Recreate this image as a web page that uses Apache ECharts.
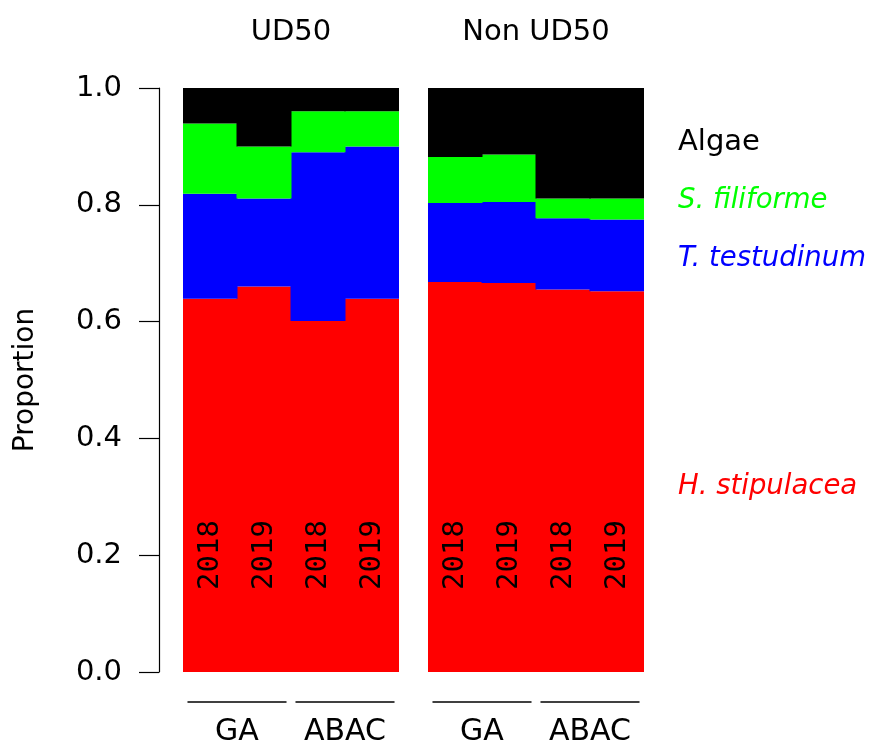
<!DOCTYPE html>
<html>
<head>
<meta charset="utf-8">
<script src="https://cdn.jsdelivr.net/npm/echarts@6/dist/echarts.min.js"></script>
<style>
  html, body { margin: 0; padding: 0; background: #ffffff; }
  #chart { width: 872px; height: 747px; }
</style>
</head>
<body>
<div id="chart"></div>
<script>
// Categories
const years = ['2018', '2019', '2018', '2019'];
const sites = ['GA', 'ABAC'];
const panels = ['UD50', 'Non UD50'];
const species = ['H. stipulacea', 'T. testudinum', 'S. filiforme', 'Algae'];
const speciesItalic = [true, true, true, false];

// Cover proportions, columns: GA 2018, GA 2019, ABAC 2018, ABAC 2019
const ud50HStipulacea = [0.639, 0.660, 0.601, 0.639];
const ud50TTestudinum = [0.180, 0.151, 0.289, 0.261];
const ud50SFiliforme  = [0.120, 0.089, 0.070, 0.060];
const ud50Algae       = [0.061, 0.100, 0.040, 0.040];

const nonHStipulacea  = [0.668, 0.666, 0.655, 0.652];
const nonTTestudinum  = [0.135, 0.139, 0.122, 0.123];
const nonSFiliforme   = [0.079, 0.081, 0.034, 0.036];
const nonAlgae        = [0.118, 0.114, 0.189, 0.189];

// y-axis ticks
const yMin = 0, yMax = 1, yStep = 0.2;

// where the species names sit along the y scale
const speciesLabelY = [0.315, 0.705, 0.805, 0.905];

const palette = ['#ff0000', '#0000ff', '#00ff00', '#000000'];
const FONT = 'DejaVu Sans, Liberation Sans, sans-serif';
const MONO = 'DejaVu Sans Mono, Liberation Mono, monospace';

const panelData = [
  [ud50HStipulacea, ud50TTestudinum, ud50SFiliforme, ud50Algae],
  [nonHStipulacea, nonTTestudinum, nonSFiliforme, nonAlgae]
];

const chart = echarts.init(document.getElementById('chart'), null, { renderer: 'canvas' });

const grids = [
  { left: 183, top: 88, width: 216, height: 585.5 },
  { left: 428, top: 88, width: 216, height: 585.5 }
];

const xAxes = [];
const yAxes = [];
const series = [];

panels.forEach((p, gi) => {
  // year labels written vertically inside the bars
  xAxes.push({
    type: 'category', gridIndex: gi, data: years, position: 'bottom', z: 10,
    axisLine: { show: false }, axisTick: { show: false }, splitLine: { show: false },
    axisLabel: {
      inside: true, rotate: 90, margin: 82, interval: 0,
      fontFamily: MONO, fontSize: 29, color: '#000000'
    }
  });
  yAxes.push({
    type: 'value', gridIndex: gi, min: yMin, max: yMax, interval: yStep,
    show: gi === 0, offset: 24,
    name: gi === 0 ? 'Proportion' : '', nameLocation: 'middle', nameGap: 119,
    nameTextStyle: { fontFamily: FONT, fontSize: 28, color: '#000000' },
    axisLine: { show: true, lineStyle: { color: '#000000', width: 1.2 } },
    axisTick: { show: true, length: 20, lineStyle: { color: '#000000', width: 1.2 } },
    splitLine: { show: false },
    axisLabel: {
      margin: 37, fontFamily: FONT, fontSize: 29, color: '#000000',
      formatter: v => v.toFixed(1)
    }
  });
  panelData[gi].forEach((vals, si) => {
    series.push({
      type: 'bar', name: species[si], xAxisIndex: gi, yAxisIndex: gi,
      stack: 'panel' + gi, data: vals, barWidth: 55, barGap: '0%',
      itemStyle: { color: palette[si], borderWidth: 0 },
      emphasis: { disabled: true },
      animation: false
    });
  });
});

// site group labels under each pair of years
panels.forEach((p, gi) => {
  xAxes.push({
    type: 'category', gridIndex: gi, data: sites, position: 'bottom',
    axisLine: { show: false }, axisTick: { show: false }, splitLine: { show: false },
    axisLabel: { margin: 45, interval: 0, fontFamily: FONT, fontSize: 30, color: '#000000' }
  });
});

chart.setOption({
  animation: false,
  backgroundColor: '#ffffff',
  grid: grids,
  xAxis: xAxes,
  yAxis: yAxes,
  series: series
});

// titles, group rules and species names placed from the axes' own scales
const graphics = [];
panels.forEach((p, gi) => {
  const c0 = chart.convertToPixel({ xAxisIndex: gi }, 0);
  const c1 = chart.convertToPixel({ xAxisIndex: gi }, 1);
  const c3 = chart.convertToPixel({ xAxisIndex: gi }, 3);
  const bw = c1 - c0;
  graphics.push({
    type: 'text', x: (c0 + c3) / 2, y: 32,
    style: { text: p, font: '29px ' + FONT, fill: '#000000', textAlign: 'center', textVerticalAlign: 'middle' }
  });
  for (let g = 0; g < sites.length; g++) {
    const a = chart.convertToPixel({ xAxisIndex: gi }, 2 * g) - bw / 2 + bw * 0.083;
    const b = chart.convertToPixel({ xAxisIndex: gi }, 2 * g + 1) + bw / 2 - bw * 0.083;
    graphics.push({
      type: 'line', shape: { x1: a, y1: 702, x2: b, y2: 702 },
      style: { stroke: '#000000', lineWidth: 1.5 }
    });
  }
});

const c3r = chart.convertToPixel({ xAxisIndex: 1 }, 3);
const bwr = chart.convertToPixel({ xAxisIndex: 1 }, 1) - chart.convertToPixel({ xAxisIndex: 1 }, 0);
const labelX = c3r + bwr / 2 + 34;
species.forEach((s, si) => {
  graphics.push({
    type: 'text', x: labelX, y: chart.convertToPixel({ yAxisIndex: 1 }, speciesLabelY[si]) - 1,
    style: {
      text: s, font: (speciesItalic[si] ? 'italic 27.5px ' : '29px ') + FONT,
      fill: palette[si], textAlign: 'left', textVerticalAlign: 'middle'
    }
  });
});

chart.setOption({ graphic: graphics });
</script>
</body>
</html>
